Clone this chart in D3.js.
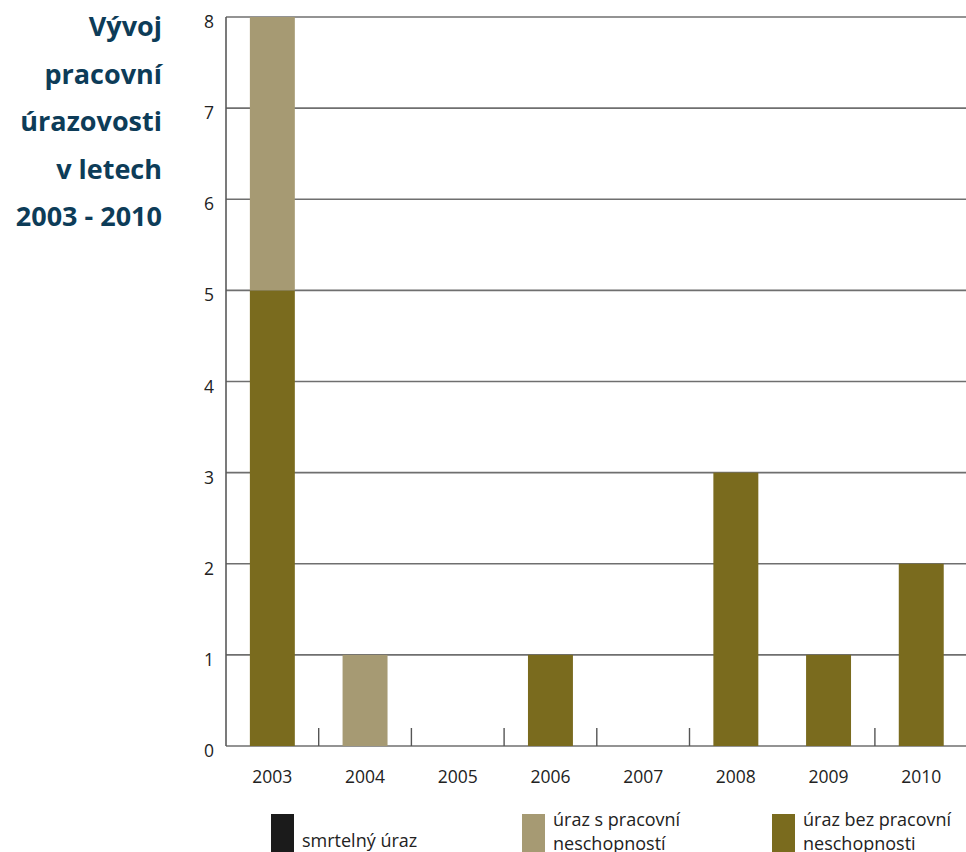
<!DOCTYPE html>
<html>
<head>
<meta charset="utf-8">
<script src="https://cdn.jsdelivr.net/npm/d3@7"></script>
<style>
  body { margin: 0; background: #fff; }
  svg { display: block; }
  .title { font-family: "Open Sans", sans-serif; font-weight: 700; fill: #0d3c58; }
  .axis text { font-family: "Open Sans", sans-serif; fill: #222; }
  .legend text { font-family: "Open Sans", sans-serif; fill: #222; }
</style>
</head>
<body>
<div id="chart"></div>
<script>
(function () {
  // data
  var years = ["2003", "2004", "2005", "2006", "2007", "2008", "2009", "2010"];
  var seriesNames = ["úraz bez pracovní neschopnosti", "úraz s pracovní neschopností", "smrtelný úraz"];
  var bezNeschopnosti = [5, 0, 0, 1, 0, 3, 1, 2];
  var sNeschopnosti = [3, 1, 0, 0, 0, 0, 0, 0];
  var smrtelny = [0, 0, 0, 0, 0, 0, 0, 0];
  var yTicks = [0, 1, 2, 3, 4, 5, 6, 7, 8];
  var titleLines = ["Vývoj", "pracovní", "úrazovosti", "v letech", "2003 - 2010"];
  var legendLabels = [["smrtelný úraz"], ["úraz s pracovní", "neschopností"], ["úraz bez pracovní", "neschopnosti"]];

  var colors = {
    "úraz bez pracovní neschopnosti": "#7a6b1e",
    "úraz s pracovní neschopností": "#a69a73",
    "smrtelný úraz": "#1b1b1b"
  };

  var W = 966, H = 852;
  var left = 226, top = 17, bottom = 746;
  var step = 92.7;

  var svg = d3.select("#chart").append("svg")
      .attr("width", W)
      .attr("height", H);

  // scales
  var x = d3.scaleBand()
      .domain(years)
      .range([left, left + step * years.length])
      .paddingInner(0.515)
      .paddingOuter(0.2575);
  var y = d3.scaleLinear().domain([0, 8]).range([bottom, top]);

  // stacked data
  var rows = years.map(function (yr, i) {
    var r = { year: yr };
    r[seriesNames[0]] = bezNeschopnosti[i];
    r[seriesNames[1]] = sNeschopnosti[i];
    r[seriesNames[2]] = smrtelny[i];
    return r;
  });
  var stacked = d3.stack().keys(seriesNames)(rows);

  // grid lines
  svg.append("g")
      .selectAll("line")
      .data(yTicks)
      .enter().append("line")
      .attr("x1", left)
      .attr("x2", W)
      .attr("y1", function (d) { return y(d); })
      .attr("y2", function (d) { return y(d); })
      .attr("stroke", "#6f6f6f")
      .attr("stroke-width", 1.6);

  // left axis line
  svg.append("line")
      .attr("x1", left).attr("x2", left)
      .attr("y1", y(8)).attr("y2", y(0))
      .attr("stroke", "#5a5a5a")
      .attr("stroke-width", 1.6);

  // bars
  svg.append("g")
      .selectAll("g")
      .data(stacked)
      .enter().append("g")
      .attr("fill", function (d) { return colors[d.key]; })
      .selectAll("rect")
      .data(function (d) { return d; })
      .enter().append("rect")
      .attr("x", function (d) { return x(d.data.year); })
      .attr("width", x.bandwidth())
      .attr("y", function (d) { return y(d[1]); })
      .attr("height", function (d) { return y(d[0]) - y(d[1]); });

  // small separator ticks between years (the one between 2008 and 2009 is missing in the original)
  var seps = years.slice(0, -1).filter(function (d) { return d !== "2008"; });
  svg.append("g")
      .selectAll("line")
      .data(seps)
      .enter().append("line")
      .attr("x1", function (d) { return x(d) + x.bandwidth() + x.step() * x.paddingInner() / 2; })
      .attr("x2", function (d) { return x(d) + x.bandwidth() + x.step() * x.paddingInner() / 2; })
      .attr("y1", y(0) - 18)
      .attr("y2", y(0))
      .attr("stroke", "#555")
      .attr("stroke-width", 1.4);

  // y axis labels
  var yAxis = svg.append("g")
      .attr("class", "axis")
      .attr("transform", "translate(" + left + ",5)")
      .call(d3.axisLeft(y).tickValues(yTicks).tickSize(0).tickPadding(12));
  yAxis.select(".domain").remove();
  yAxis.selectAll("text").attr("font-size", 17.5).attr("text-anchor", "end");

  // x axis labels
  var xAxis = svg.append("g")
      .attr("class", "axis")
      .attr("transform", "translate(0," + bottom + ")")
      .call(d3.axisBottom(x).tickSize(0).tickPadding(25));
  xAxis.select(".domain").remove();
  xAxis.selectAll("text").attr("font-size", 17.5);

  // title
  svg.append("text")
      .attr("class", "title")
      .attr("text-anchor", "end")
      .attr("font-size", 27)
      .selectAll("tspan")
      .data(titleLines)
      .enter().append("tspan")
      .attr("x", 162)
      .attr("y", function (d, i) { return 36 + i * 47.5; })
      .text(function (d) { return d; });

  // legend
  var legendX = [271, 522, 772];
  var legendKeys = ["smrtelný úraz", "úraz s pracovní neschopností", "úraz bez pracovní neschopnosti"];
  var lg = svg.append("g").attr("class", "legend")
      .selectAll("g")
      .data(legendKeys)
      .enter().append("g")
      .attr("transform", function (d, i) { return "translate(" + legendX[i] + ",814)"; });

  lg.append("rect")
      .attr("width", 23)
      .attr("height", 40)
      .attr("fill", function (d) { return colors[d]; });

  // each legend line as its own text element
  lg.each(function (d, i) {
    var lines = legendLabels[i];
    var g = d3.select(this);
    lines.forEach(function (line, j) {
      g.append("text")
        .attr("font-size", 18)
        .attr("x", 31)
        .attr("y", lines.length === 1 ? 33 : 12 + j * 23.5)
        .text(line);
    });
  });
})();
</script>
</body>
</html>
